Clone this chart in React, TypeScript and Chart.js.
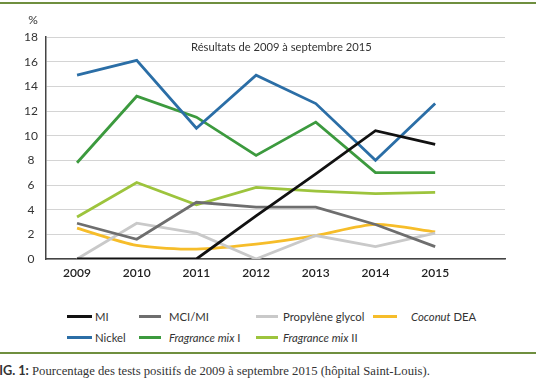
import React, { useEffect, useRef } from "react";
import { Chart, registerables } from "chart.js";

Chart.register(...registerables);

const years = [2009, 2010, 2011, 2012, 2013, 2014, 2015];
const yTicks = [0, 2, 4, 6, 8, 10, 12, 14, 16, 18];

const seriesNames = ["MI", "MCI/MI", "Propylène glycol", "Coconut DEA", "Nickel", "Fragrance mix I", "Fragrance mix II"];
const italicParts = ["", "", "", "Coconut", "", "Fragrance mix", "Fragrance mix"];
const seriesColors = ["#111111", "#6e6e6e", "#c9c9c9", "#f6bd2a", "#2b6ea6", "#3c9a3e", "#9dc43d"];

const miValues = [0, 0, 0, 3.5, 6.9, 10.4, 9.3];
const mciMiValues = [2.9, 1.6, 4.6, 4.2, 4.2, 2.8, 1.0];
const propyleneValues = [0, 2.9, 2.1, 0, 1.9, 1.0, 2.1];
const coconutValues = [2.5, 1.1, 0.8, 1.2, 1.9, 2.8, 2.2];
const nickelValues = [14.9, 16.1, 10.6, 14.9, 12.6, 8.0, 12.6];
const fragranceIValues = [7.8, 13.2, 11.5, 8.4, 11.1, 7.0, 7.0];
const fragranceIIValues = [3.4, 6.2, 4.4, 5.8, 5.5, 5.3, 5.4];

const seriesValues = [miValues, mciMiValues, propyleneValues, coconutValues, nickelValues, fragranceIValues, fragranceIIValues];
const seriesTension = [0, 0, 0, 0.25, 0, 0, 0];

const chartTitle = "Résultats de 2009 à septembre 2015";
const yUnit = "%";
const captionLabel = "FIG. 1:";
const captionText = "Pourcentage des tests positifs de 2009 à septembre 2015 (hôpital Saint-Louis).";

const SANS = "Lato, 'Noto Sans', sans-serif";

const textPlugin = {
  id: "innerTexts",
  afterDraw(chart: any) {
    const { ctx, chartArea } = chart;
    ctx.save();
    ctx.fillStyle = "#333";
    ctx.font = `11.2px ${SANS}`;
    ctx.textAlign = "left";
    ctx.textBaseline = "middle";
    ctx.fillText(chartTitle, chartArea.left + 145, chartArea.top + 10);
    ctx.font = `12px ${SANS}`;
    ctx.textAlign = "center";
    ctx.fillText(yUnit, 33, chartArea.top - 17);
    ctx.restore();
  },
};

export default function App() {
  const ref = useRef<HTMLCanvasElement | null>(null);

  useEffect(() => {
    if (!ref.current) return;
    const chart = new Chart(ref.current, {
      type: "line",
      data: {
        datasets: seriesNames.map((name, i) => ({
          label: name,
          data: years.map((y, j) => ({ x: y, y: seriesValues[i][j] })),
          borderColor: seriesColors[i],
          backgroundColor: seriesColors[i],
          borderWidth: 2.8,
          pointRadius: 0,
          tension: seriesTension[i],
          fill: false,
        })),
      },
      options: {
        responsive: false,
        animation: false,
        layout: { padding: { top: 37, right: 31, left: 0, bottom: 0 } },
        plugins: { legend: { display: false }, tooltip: { enabled: false }, title: { display: false } },
        scales: {
          x: {
            type: "linear",
            min: 2008.48,
            max: 2016.17,
            afterBuildTicks: (scale: any) => {
              scale.ticks = years.map((v) => ({ value: v }));
            },
            afterFit: (scale: any) => {
              scale.height = 31;
            },
            grid: { display: false, drawTicks: false },
            border: { display: true, color: "#444", width: 1.5 },
            ticks: {
              padding: 7,
              color: "#222",
              font: { family: SANS, size: 12, weight: "600" },
              callback: (v: any) => String(v),
              maxRotation: 0,
              autoSkip: false,
            },
          },
          y: {
            min: 0,
            max: 18,
            afterBuildTicks: (scale: any) => {
              scale.ticks = yTicks.map((v) => ({ value: v }));
            },
            afterFit: (scale: any) => {
              scale.width = 46;
            },
            grid: { color: "#d4d4d4", lineWidth: 1, drawTicks: false },
            border: { display: true, color: "#444", width: 1.5 },
            ticks: {
              padding: 8,
              crossAlign: "center",
              color: "#333",
              font: { family: SANS, size: 12 },
            },
          },
        },
      },
      plugins: [textPlugin],
    } as any);
    return () => chart.destroy();
  }, []);

  const colLefts = [67, 139, 256, 373];
  const colLineWidths = [25, 22, 22, 24];
  const colGaps = [3, 8, 5, 14];
  const rowTops = [308, 329];

  return (
    <div style={{ position: "absolute", left: 0, top: 0, width: 536, height: 386, background: "#fff", overflow: "hidden" }}>
      <div style={{ position: "absolute", left: 0, top: 2, width: 536, height: 2, background: "#6f8f3f" }} />
      <canvas ref={ref} width={536} height={290} style={{ position: "absolute", left: 0, top: 0, width: 536, height: 290 }} />
      {seriesNames.map((name, i) => {
        const row = Math.floor(i / 4);
        const col = i % 4;
        const it = italicParts[i];
        const rest = it ? name.slice(it.length) : name;
        return (
          <div
            key={name}
            style={{
              position: "absolute",
              left: colLefts[col],
              top: rowTops[row],
              height: 16,
              display: "flex",
              alignItems: "center",
              fontFamily: SANS,
              fontSize: 11.3,
              color: "#333",
              whiteSpace: "pre",
            }}
          >
            <span
              style={{
                display: "inline-block",
                width: colLineWidths[col],
                height: 3,
                background: seriesColors[i],
                marginRight: colGaps[col],
              }}
            />
            {it ? <span style={{ fontStyle: "italic" }}>{it}</span> : null}
            <span>{rest}</span>
          </div>
        );
      })}
      <div style={{ position: "absolute", left: 0, top: 352, width: 536, height: 2, background: "#6f8f3f" }} />
      <div
        style={{
          position: "absolute",
          left: -8,
          top: 362,
          whiteSpace: "nowrap",
          fontFamily: "'Liberation Serif', serif",
          fontSize: 12.7,
          color: "#333",
        }}
      >
        <span style={{ fontFamily: SANS, fontWeight: 700, fontVariant: "small-caps", color: "#333" }}>{captionLabel}</span>{" "}
        <span>{captionText}</span>
      </div>
    </div>
  );
}
